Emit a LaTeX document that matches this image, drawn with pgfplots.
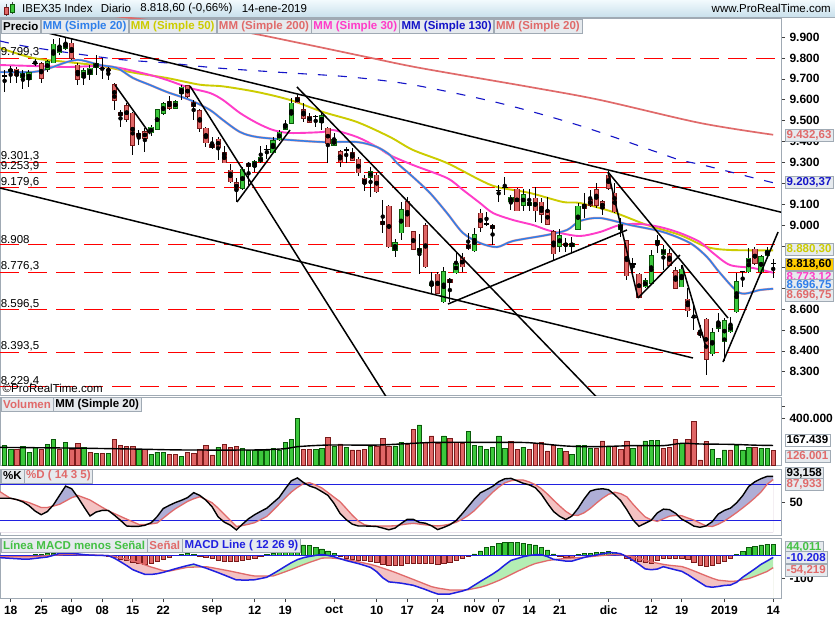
\documentclass[border=0pt]{standalone}
\usepackage{fontspec}
\setmainfont{Liberation Sans}
\usepackage{pgfplots}
\pgfplotsset{compat=1.18}
\usepackage{pgfplotstable}

\definecolor{cgreen}{HTML}{3CC83C}
\definecolor{cgreenD}{HTML}{0A5A0A}
\definecolor{cred}{HTML}{E06666}
\definecolor{credD}{HTML}{7A1A1A}
\definecolor{ma20}{HTML}{2F7FEA}
\definecolor{ma50}{HTML}{CCCC00}
\definecolor{ma200}{HTML}{E06A6A}
\definecolor{ma30}{HTML}{FF3CC8}
\definecolor{ma130}{HTML}{1414C8}
\definecolor{frame}{HTML}{A0AAB4}
\definecolor{lav}{HTML}{AEAED6}
\definecolor{pinkf}{HTML}{F4C2C2}
\definecolor{greenf}{HTML}{B4EEB4}
\definecolor{boxbg}{HTML}{E6EAEE}
\definecolor{gold}{HTML}{FFCC00}
\definecolor{tb1}{HTML}{F2FAFD}
\definecolor{tb2}{HTML}{C9E0EC}
\definecolor{lgreen}{HTML}{44C044}
\definecolor{lblue}{HTML}{2020E0}

% ---------------- candles ----------------
\pgfplotstableread{
k O H L C
0 9735 9760 9680 9745
2 9707 9742 9650 9726
3 9698 9742 9663 9730
6 9745 9790 9735 9782
7 9777 9889 9774 9866
8 9825 9894 9814 9854
9 9846 9898 9838 9870
12 9707 9750 9670 9739
13 9723 9766 9694 9750
14 9755 9814 9718 9774
23 9443 9479 9427 9468
24 9459 9554 9455 9551
25 9535 9591 9527 9580
27 9559 9599 9554 9591
28 9631 9671 9599 9659
38 9177 9280 9169 9268
40 9283 9312 9256 9304
41 9304 9379 9296 9325
43 9347 9424 9344 9403
44 9408 9455 9403 9444
45 9460 9503 9455 9484
46 9487 9607 9484 9583
51 9492 9538 9455 9524
53 9384 9443 9379 9408
59 9229 9280 9134 9257
63 8882 8933 8847 8917
64 8965 9113 8930 9073
67 8871 8958 8767 8890
69 8711 8778 8675 8722
71 8635 8802 8630 8778
73 8774 8874 8767 8818
76 8879 8985 8874 8954
82 9113 9145 9073 9134
84 9097 9172 9070 9145
85 9097 9172 9070 9108
90 8901 8981 8874 8949
92 8901 8942 8874 8911
93 8982 9105 8977 9092
100 8981 9033 8943 9006
104 8707 8746 8699 8734
105 8723 8882 8715 8853
106 8914 8954 8866 8926
107 8863 8906 8786 8885
110 8707 8810 8704 8790
115 8385 8508 8375 8487
116 8507 8579 8492 8535
117 8444 8555 8353 8544
118 8492 8563 8487 8523
119 8587 8770 8579 8731
121 8778 8890 8770 8842
123 8778 8858 8767 8850
124 8858 8898 8842 8877
}\up

\pgfplotstableread{
k O H L C
1 9745 9758 9680 9718
5 9771 9782 9682 9702
10 9870 9894 9790 9798
11 9766 9774 9670 9698
16 9745 9755 9694 9738
17 9671 9679 9551 9599
18 9538 9551 9471 9527
19 9570 9583 9495 9506
20 9535 9543 9336 9384
21 9440 9455 9384 9424
22 9448 9463 9352 9416
26 9591 9618 9551 9559
29 9666 9671 9610 9618
30 9586 9599 9503 9567
31 9548 9554 9448 9464
32 9464 9471 9373 9395
33 9387 9420 9363 9373
34 9411 9424 9312 9373
35 9347 9379 9299 9299
36 9264 9293 9200 9209
37 9204 9224 9113 9172
39 9296 9304 9193 9283
47 9612 9623 9583 9586
48 9551 9583 9495 9511
49 9522 9535 9487 9492
52 9463 9471 9296 9389
54 9352 9360 9280 9304
56 9347 9368 9309 9312
57 9315 9325 9236 9252
58 9225 9240 9166 9198
60 9240 9249 9156 9161
61 9017 9121 8962 9006
62 9092 9097 8890 8898
65 9113 9137 8990 8993
66 8970 8970 8882 8885
68 8997 9013 8794 8802
70 8767 8778 8672 8675
72 8742 8746 8635 8727
74 8847 8869 8778 8802
75 8909 8962 8882 8887
77 9057 9076 8970 8990
79 9000 9006 8906 8984
83 9172 9177 9067 9070
86 9129 9185 9017 9070
87 9110 9129 9009 9054
88 9070 9137 9001 9006
89 8970 8978 8831 8863
91 8911 8938 8874 8904
94 9097 9153 9033 9081
95 9121 9169 9089 9097
96 9169 9201 9081 9097
97 9113 9121 9049 9081
98 9240 9261 9169 9177
99 9153 9201 9057 9065
101 8927 8930 8739 8758
103 8767 8770 8651 8656
108 8863 8885 8805 8810
109 8783 8802 8699 8699
111 8646 8699 8563 8592
113 8487 8523 8460 8476
114 8550 8555 8285 8359
122 8885 8898 8810 8818
}\down

\pgfplotstableread{
k O H L C
-1 9713 9742 9639 9713
4 9774 9793 9761 9774
15 9750 9798 9698 9750
42 9363 9384 9315 9363
50 9519 9527 9471 9519
55 9360 9373 9299 9360
78 9006 9065 8997 9006
80 9165 9193 9113 9165
81 9181 9232 9145 9181
102 8815 8842 8767 8815
112 8560 8627 8500 8560
120 8778 8783 8707 8778
125 8818.6 8837 8746 8818.6
}\doji

% ---------------- moving averages ----------------
\pgfplotstableread{
k v
-1.75 9732.7
3.66 9732.7
6.44 9751.8
9.23 9780.5
11.36 9790
14.64 9766
17.43 9751.8
20.05 9704
22.84 9670.6
25.62 9637
29.39 9598.9
32.67 9551
34.8 9503
37.59 9445.9
40.38 9422
45.79 9407.7
51.2 9398
56.77 9398
60.05 9374
62.18 9336
63.33 9297.7
65.95 9230.8
68.74 9154.3
71.52 9058.7
74.15 8963
76.93 8915.3
79.72 8896
82.34 8924.9
87.92 8953.6
91.2 8977.5
93.33 9020.5
96.6 9034.8
101.52 9001.4
106.93 8968
111.36 8915.3
114.15 8848.4
116.28 8772
119.56 8676.3
122.84 8690.7
125 8696.75
}\smaA

\pgfplotstableread{
k v
-1.75 9766
3.66 9761.4
9.23 9756.6
14.64 9761.4
17.92 9751.8
22.84 9718.4
25.62 9694.5
29.39 9656.2
32.67 9632.3
34.8 9598.9
37.59 9536.7
40.38 9488.9
43 9455.5
45.79 9441.1
51.2 9445.9
52.84 9455.5
56.77 9422
60.05 9374.2
62.18 9335
65.95 9288
71.52 9226
74.15 9168.7
76.93 9106.5
79.07 9058.7
82.34 9025.3
85.62 9001.4
87.92 8977.5
90.05 8963.1
93.33 8948.8
96.6 8967.9
99.89 9001.4
103.16 9006.1
106.44 8991.8
109.72 8963.1
113 8920.1
115.13 8867.5
117.92 8810.2
121.69 8795.8
125 8773.12
}\smaC

\pgfplotstableread{
k v
-1.75 9847.4
3.66 9799.6
9.23 9780.5
14.64 9762
20.05 9730
25.62 9704
31 9672
34.8 9664
40.38 9637.1
45.79 9598.9
51.2 9541.5
56.77 9493.7
62.18 9422
65.95 9359.9
71.52 9297.7
76.93 9216.5
79.72 9183
85.13 9154.3
90.54 9111.3
93.33 9106.5
98.74 9063.5
104.31 9001.4
109.72 8953.6
114.15 8896.2
117.92 8881.9
125 8880.3
}\smaB

\pgfplotstableread{
k v
-1.75 10060
20 9990
36.4 9933
47.4 9871
58.4 9804
67.1 9752
85.1 9661
96.6 9599
113 9489
125 9432.63
}\smaD

\pgfplotstableread{
k v
-1.75 9881
3.16 9852
17.1 9795
25.6 9776
33.8 9752
45.8 9728
55.6 9709
66 9671
80 9585
93 9479
105.9 9350
109.7 9312
113.5 9288
121.2 9231
125 9203.37
}\smaE

% ---------------- volume ----------------
\pgfplotstableread{
k V
-1 171000
0 137000
2 157000
3 111000
4 151000
6 177000
7 220000
9 194000
12 151000
14 100000
16 100000
21 134000
23 94000
24 111000
25 111000
28 77000
34 151000
38 143000
39 123000
40 123000
41 123000
42 123000
43 143000
44 123000
45 194000
46 220000
47 400000
50 137000
51 143000
53 157000
55 151000
59 163000
63 163000
64 194000
67 343000
71 249000
75 291000
76 171000
77 163000
78 134000
79 149000
80 249000
81 143000
84 151000
90 143000
92 94000
93 171000
94 171000
95 143000
98 163000
102 143000
104 206000
105 214000
106 214000
110 186000
115 134000
116 57000
117 129000
119 171000
120 129000
121 151000
123 143000
124 143000
}\volG

\pgfplotstableread{
k V
1 137000
5 137000
8 137000
10 137000
11 186000
13 111000
15 100000
17 220000
18 171000
19 157000
20 157000
22 134000
26 94000
27 94000
29 111000
30 100000
31 134000
32 171000
33 86000
35 177000
36 151000
37 157000
48 137000
49 137000
52 237000
54 180000
56 129000
57 129000
58 134000
60 163000
61 229000
62 163000
65 180000
66 306000
68 194000
69 249000
70 186000
72 229000
73 194000
74 186000
82 200000
83 134000
85 134000
86 186000
87 194000
88 120000
89 171000
91 114000
96 143000
97 206000
99 157000
100 134000
101 206000
103 171000
107 143000
108 151000
109 220000
111 220000
112 377000
113 43000
114 200000
118 129000
122 151000
125 126001
}\volR

\pgfplotstableread{
k V
-1.75 151000
10 145000
20 137000
28 129000
40 129000
45 140000
47 157000
52 171000
60 171000
66 186000
70 194000
80 194000
85 191000
91 163000
96 157000
102 166000
107 166000
110 186000
113 180000
118 177000
122 170000
125 167439
}\volMA

% ---------------- stochastic %K %D ----------------
\pgfplotstableread{
k K D
-1.754 56.7 67.8
-1 56.7 62.7
0 56.7 56.5
1 54.5 54.4
2 50.7 52.4
3 44.4 49.5
4 35.4 45.5
5 29.3 41.3
6 34.5 41.4
7 45.7 43.7
8 61.4 46.6
9 77 52.1
10 72.6 57.7
11 58.5 61.5
12 42.6 57.7
13 27.2 53.9
14 33.8 47.8
15 36.5 41.7
16 36.4 35.9
17 28.5 31.2
18 19.9 26.6
19 10.5 22
20 9.8 17.6
21 10 13.1
22 11.7 13
23 15.8 14
24 26.1 15.5
25 39.6 23.6
26 44.9 31.8
27 49.6 39.3
28 53.4 45.4
29 57.9 51.5
30 66.1 55.9
31 61.5 59.3
32 53.6 54.5
33 42.7 49.4
34 25.8 40.4
35 17 30.2
36 11.9 20
37 4 9.8
38 13.6 11.3
39 22.7 13.4
40 29.4 16.1
41 35 21.2
42 40.3 26.5
43 49.2 36.5
44 58 46.8
45 72.4 57
46 85.8 67.1
47 90.7 74.8
48 82.9 81.1
49 77.2 82.6
50 73.8 78.8
51 67.9 73.9
52 61.6 66.3
53 48.2 58.6
54 31.4 50.9
55 21.2 39.8
56 13.5 28.5
57 10.5 18.7
58 10.5 12.6
59 10.2 10.5
60 9.7 10.5
61 7 10.5
62 4.2 10.5
63 7 10.9
64 14.6 12.4
65 21.6 13.9
66 21.6 14.9
67 16.6 13.7
68 15.1 12.4
69 10.8 11.4
70 4.5 10.7
71 8.2 11.7
72 12.6 13.8
73 19.4 16.6
74 30.8 21.6
75 43 28
76 55.3 36
77 65.8 46.2
78 71 56.4
79 76.6 66.6
80 84.4 75.2
81 89.2 82.4
82 89.9 85.9
83 85.9 87.2
84 81.7 87.2
85 79.1 83.9
86 74.4 79.4
87 63.4 72.7
88 48.3 63.6
89 34.6 53.5
90 26.5 43.9
91 21.2 34.9
92 27 28.4
93 39.8 28.2
94 55.5 32.5
95 68.7 39.6
96 71.6 48.5
97 72.6 56.6
98 71 63.3
99 62.8 66.9
100 52.7 64.4
101 37.8 59.2
102 20.9 47.1
103 10 35.9
104 15 25.8
105 20.1 20.7
106 32.3 18.2
107 38.6 22.5
108 37.8 26.9
109 31.6 28.1
110 21.9 27.7
111 16.5 23.9
112 10.3 20.3
113 8.3 15.4
114 10.7 10.8
115 17.7 9.6
116 30.5 13.5
117 36.5 18.9
118 40.3 25.6
119 49.1 32.9
120 61.1 40.6
121 76.6 48.7
122 84.2 57.5
123 89.4 67.1
124 93.2 79.9
125 93.16 87.93
}\stoch

% ---------------- MACD line (M) and signal (S) ----------------
\pgfplotstableread{
k M S
-1.754 -11.4 -7.2
-1 -12.6 -7.2
0 -14.3 -7.2
1 -15.9 -7.2
2 -17.6 -7.2
3 -17.5 -7.2
4 -14.5 -6.7
5 -11.5 -4.8
6 -8.5 -3
7 -1.3 -1.1
8 7.2 0.8
9 7.2 2.6
10 7.2 2.3
11 4.8 1.7
12 1.5 1
13 -0.4 0.4
14 -1.2 -0.5
15 -1.9 -1.5
16 -2.7 -2.6
17 -13.8 -6.9
18 -28.9 -12.5
19 -45.2 -18.1
20 -62.7 -23.7
21 -73.2 -32.7
22 -83 -42.1
23 -83.5 -51.3
24 -80.3 -59
25 -74.5 -67
26 -66.7 -69.1
27 -58.9 -63.4
28 -51.8 -57.8
29 -45 -52.8
30 -39.2 -51.9
31 -47.7 -51
32 -56.1 -50.1
33 -65.8 -54.3
34 -75.6 -59.2
35 -85.9 -64.1
36 -96.4 -69.1
37 -107 -74.6
38 -107.3 -80.1
39 -107.3 -85.7
40 -106.1 -90.1
41 -100.9 -90.1
42 -95.3 -90.1
43 -80.5 -90.1
44 -64.9 -81.3
45 -48.7 -71.9
46 -33 -62.2
47 -19.9 -51.6
48 -11.3 -41.3
49 -6.1 -31.5
50 -1.5 -22.6
51 2 -13.6
52 -1.7 -12.4
53 -7.6 -13.7
54 -15.9 -16.4
55 -23.7 -20
56 -30.3 -23.7
57 -36.8 -29
58 -44.8 -34.7
59 -53.3 -40.3
60 -71.5 -47.7
61 -97.8 -56.4
62 -115.3 -65.1
63 -117.9 -74.3
64 -120.8 -84.5
65 -125.4 -94.7
66 -130 -104.9
67 -139.1 -115.2
68 -148.2 -125.5
69 -158.6 -135.9
70 -167.4 -141.8
71 -167.4 -146
72 -167.4 -150.2
73 -161.2 -150.2
74 -154.9 -150.2
75 -146.1 -148.9
76 -129.7 -143.6
77 -113.3 -138.4
78 -97.6 -130.5
79 -81.9 -120.2
80 -64.2 -109.6
81 -42.7 -97.1
82 -23.1 -84
83 -15.4 -70.9
84 -7.5 -59
85 -2.1 -46.8
86 1.4 -36.6
87 1.4 -30.4
88 -6.8 -24.1
89 -18.7 -20
90 -22.4 -17.3
91 -26.1 -14.7
92 -26.2 -13
93 -18.3 -11.4
94 -10.5 -9.7
95 -4.5 -7.1
96 0.1 -4.5
97 5 -2
98 10.2 0.1
99 9.5 2.2
100 5.6 0.4
101 -7.5 -3.3
102 -22.7 -6.9
103 -40.1 -14.5
104 -59.5 -22.4
105 -63.1 -29.6
106 -60.3 -34.9
107 -50.1 -40.2
108 -57.1 -44.1
109 -63.8 -46.7
110 -69.9 -49.3
111 -84.4 -57.8
112 -101.7 -68.2
113 -118.1 -78.7
114 -134.6 -89.2
115 -138.3 -99.6
116 -135 -108
117 -130.5 -110.6
118 -128.8 -113.2
119 -117 -111.6
120 -95.2 -106.4
121 -77.3 -101.1
122 -59.4 -91.6
123 -40.2 -81.2
124 -25.5 -70.7
125 -10.21 -54.22
}\macd

\pgfplotstableread{
k v
4 2
5 3
6 6
7 9
8 10
9 9
10 7
11 4
12 2
28 4
29 6
30 3
42 3
43 9
44 15
45 24
46 34
47 42
48 43
49 40
50 34
51 26
52 18
53 8
76 5
77 18
78 32
79 38
80 50
81 54
82 54
83 53
84 50
85 47
86 43
87 33
88 22
89 5
93 3
94 6
95 8
96 10
97 12
98 15
99 10
100 2
119 4
120 14
121 33
122 38
123 43
124 47
125 44.01
}\hG

\pgfplotstableread{
k v
-1 -2
0 -2
1 -1
2 -1
14 -1
15 -2
16 -5
17 -10
18 -18
19 -24
20 -30
21 -36
22 -38
23 -36
24 -28
25 -20
26 -10
27 -3
31 -4
32 -10
33 -16
34 -21
35 -26
36 -28
37 -28
38 -24
39 -18
40 -12
41 -5
54 -5
55 -12
56 -17
57 -21
58 -24
59 -28
60 -33
61 -40
62 -46
63 -46
64 -42
65 -36
66 -36
67 -36
68 -36
69 -37
70 -38
71 -35
72 -30
73 -22
74 -14
75 -5
90 -4
91 -10
92 -10
101 -12
102 -22
103 -29
104 -33
105 -36
106 -22
107 -15
108 -14
109 -14
110 -14
111 -20
112 -33
113 -43
114 -47
115 -43
116 -35
117 -28
118 -14
}\hR

\pgfplotsset{
  panel/.style={scale only axis, width=781pt, xmin=-1.754, xmax=126.28,
    anchor=north west, axis line style={draw=frame}, xtick=\empty,
    ytick pos=right, tick align=outside, major tick length=4pt,
    tick style={draw=black!75, line width=0.6pt},
    yticklabel style={font=\bfseries\fontsize{12}{12}\selectfont, xshift=1pt}},
  hl/.style={draw=red, line width=0.9pt, dash pattern=on 19pt off 9pt, forget plot},
  eb/.style 2 args={only marks, mark=none, forget plot,
    error bars/y dir=both, error bars/y explicit, error bars/error mark=none,
    error bars/error bar style={line width=#1, draw=#2, solid}},
  vbar/.style 2 args={ybar, bar width=4.3pt, bar shift=0pt, fill=#1, draw=#2, line width=0.6pt, forget plot},
  tl/.style={black, line width=1.5pt, forget plot},
}
\tikzset{
  vbox/.style={draw=frame, fill=#1, inner xsep=1.5pt, inner ysep=0.5pt, minimum height=12pt,
    anchor=west, font=\bfseries\fontsize{11.5}{12}\selectfont},
  lbox/.style={draw=frame, fill=boxbg, inner xsep=2pt, inner ysep=0pt, minimum height=14pt,
    anchor=west, font=\bfseries\fontsize{11.5}{12}\selectfont},
  hlab/.style={anchor=south west, inner sep=0.6pt, font=\fontsize{11.5}{12}\selectfont},
  ttl/.style={anchor=west, inner sep=0pt, font=\fontsize{11.5}{13}\selectfont},
}

\begin{document}
\begin{tikzpicture}
\path[use as bounding box] (0pt,0pt) rectangle (835pt,-620pt);
\fill[white] (0pt,0pt) rectangle (835pt,-620pt);
\shade[top color=tb1, bottom color=tb2] (0pt,0pt) rectangle (835pt,-17pt);
\draw[frame] (0pt,-17pt) -- (835pt,-17pt);
% small candle icon
\draw[black!70] (6pt,-4pt) -- (6pt,-16pt);
\fill[cred, draw=credD] (4pt,-7pt) rectangle (8pt,-14pt);
\draw[black!70] (12.5pt,-2pt) -- (12.5pt,-14pt);
\fill[cgreen, draw=cgreenD] (10.5pt,-4pt) rectangle (14.5pt,-12pt);
\node[ttl] (t1) at (22pt,-8.5pt) {IBEX35 Index};
\node[ttl] (t2) at ([xshift=8pt]t1.east) {Diario};
\node[ttl] (t3) at ([xshift=9pt]t2.east) {8.818,60 (-0,66\%)};
\node[ttl] (t4) at ([xshift=9pt]t3.east) {14-ene-2019};
\node[anchor=east, inner sep=0pt, font=\fontsize{11.5}{13}\selectfont] at (831pt,-8.5pt) {www.ProRealTime.com};

% ================= MAIN PRICE PANEL =================
\begin{axis}[panel, at={(0pt,-18pt)}, height=377pt, ymin=8188.8, ymax=9990.8,
  ytick={8300,8400,...,9900},
  yticklabels={8.300,8.400,8.500,8.600,{},{},{},9.000,9.100,{},9.300,9.400,9.500,9.600,9.700,9.800,9.900}]
\addplot[hl] coordinates {(-1.754,9799.3) (126.28,9799.3)};
\addplot[hl] coordinates {(-1.754,9301.3) (126.28,9301.3)};
\addplot[hl] coordinates {(-1.754,9253.9) (126.28,9253.9)};
\addplot[hl] coordinates {(-1.754,9179.6) (126.28,9179.6)};
\addplot[hl] coordinates {(-1.754,8908) (126.28,8908)};
\addplot[hl] coordinates {(-1.754,8776.3) (126.28,8776.3)};
\addplot[hl] coordinates {(-1.754,8596.5) (126.28,8596.5)};
\addplot[hl] coordinates {(-1.754,8393.5) (126.28,8393.5)};
\addplot[hl] coordinates {(-1.754,8229.4) (126.28,8229.4)};
% moving averages
\addplot[ma200, line width=1.7pt, smooth, forget plot] table[x=k,y=v] {\smaD};
\addplot[ma130, line width=1.1pt, smooth, dash pattern=on 9pt off 11pt, forget plot] table[x=k,y=v] {\smaE};
\addplot[ma50, line width=1.9pt, smooth, forget plot] table[x=k,y=v] {\smaB};
\addplot[ma30, line width=1.9pt, smooth, forget plot] table[x=k,y=v] {\smaC};
\addplot[ma200!70, line width=2.3pt, smooth, forget plot] table[x=k,y=v] {\smaA};
\addplot[ma20, line width=1.5pt, smooth, forget plot] table[x=k,y=v] {\smaA};
% candles: wicks
\addplot[eb={1pt}{black}] table[x=k, y expr=(\thisrow{H}+\thisrow{L})/2, y error expr=(\thisrow{H}-\thisrow{L})/2] {\up};
\addplot[eb={1pt}{black}] table[x=k, y expr=(\thisrow{H}+\thisrow{L})/2, y error expr=(\thisrow{H}-\thisrow{L})/2] {\down};
\addplot[eb={1pt}{black}] table[x=k, y expr=(\thisrow{H}+\thisrow{L})/2, y error expr=(\thisrow{H}-\thisrow{L})/2] {\doji};
% candles: bodies
\addplot[eb={5.2pt}{cgreenD}] table[x=k, y expr=(\thisrow{O}+\thisrow{C})/2, y error expr=(\thisrow{C}-\thisrow{O})/2+2.6] {\up};
\addplot[eb={3.2pt}{cgreen}] table[x=k, y expr=(\thisrow{O}+\thisrow{C})/2, y error expr=(\thisrow{C}-\thisrow{O})/2] {\up};
\addplot[eb={5.2pt}{credD}] table[x=k, y expr=(\thisrow{O}+\thisrow{C})/2, y error expr=(\thisrow{O}-\thisrow{C})/2+2.6] {\down};
\addplot[eb={3.2pt}{cred}] table[x=k, y expr=(\thisrow{O}+\thisrow{C})/2, y error expr=(\thisrow{O}-\thisrow{C})/2] {\down};
\addplot[only marks, mark=-, mark size=2.7pt, mark options={line width=1.3pt, draw=black}, forget plot] table[x=k, y=C] {\doji};
% trend lines
\addplot[tl] coordinates {(6.11,9919) (126.5,9061)};
\addplot[tl] coordinates {(-1.754,9178.2) (111.85,8365.6)};
\addplot[tl] coordinates {(17.1,9670.6) (22.84,9436.3)};
\addplot[tl] coordinates {(29.39,9665.8) (62.2,8150)};
\addplot[tl] coordinates {(37.1,9111.3) (45.79,9455.5)};
\addplot[tl] coordinates {(46.93,9661) (97,8150)};
\addplot[tl] coordinates {(71.69,8623.7) (101.03,8977.5)};
\addplot[tl] coordinates {(97.92,9254.7) (102.84,8652.4)};
\addplot[tl] coordinates {(97.92,9254.7) (117.59,8556.8)};
\addplot[tl] coordinates {(102.84,8652.4) (109.72,8857.9)};
\addplot[tl] coordinates {(110.05,8810.2) (113.98,8418.2)};
\addplot[tl] coordinates {(116.77,8346.5) (125.8,8967.9)};
% level labels
\node[hlab] at (axis cs:-1.754,9799.3) {9.799,3};
\node[hlab] at (axis cs:-1.754,9301.3) {9.301,3};
\node[hlab] at (axis cs:-1.754,9253.9) {9.253,9};
\node[hlab] at (axis cs:-1.754,9179.6) {9.179,6};
\node[hlab] at (axis cs:-1.754,8908) {8.908};
\node[hlab] at (axis cs:-1.754,8776.3) {8.776,3};
\node[hlab] at (axis cs:-1.754,8596.5) {8.596,5};
\node[hlab] at (axis cs:-1.754,8393.5) {8.393,5};
\node[hlab] at (axis cs:-1.754,8229.4) {8.229,4};
\end{axis}
\node[anchor=south west, inner sep=0.5pt, font=\fontsize{11.5}{12}\selectfont] at (2pt,-393pt) {\textcopyright ProRealTime.com};

% ================= VOLUME PANEL =================
\begin{axis}[panel, at={(0pt,-397pt)}, height=68pt, ymin=0, ymax=582700,
  scaled y ticks=false,
  ytick={400000,500000}, yticklabels={400.000,{}}]
\addplot[vbar={cgreen}{cgreenD}] table[x=k,y=V] {\volG};
\addplot[vbar={cred}{credD}] table[x=k,y=V] {\volR};
\addplot[black, line width=1.4pt, smooth, forget plot] table[x=k,y=V] {\volMA};
\end{axis}

% ================= STOCHASTIC PANEL =================
\begin{axis}[panel, at={(0pt,-469pt)}, height=66pt, ymin=-4.5, ymax=105.5,
  ytick={50}, yticklabels={50}]
\addplot[fill=pinkf, draw=none, forget plot] table[x=k,y=D] {\stoch} \closedcycle;
\addplot[fill=lav, draw=none, forget plot] table[x=k,y=K] {\stoch} \closedcycle;
\addplot[fill=white, draw=none, forget plot] table[x=k, y expr={min(\thisrow{K},\thisrow{D})}] {\stoch} \closedcycle;
\addplot[lblue, line width=0.8pt, forget plot] coordinates {(-1.754,80) (126.28,80)};
\addplot[lblue, line width=0.8pt, forget plot] coordinates {(-1.754,20) (126.28,20)};
\addplot[ma200, line width=1.3pt, forget plot] table[x=k,y=D] {\stoch};
\addplot[black, line width=1.4pt, forget plot] table[x=k,y=K] {\stoch};
\end{axis}

% ================= MACD PANEL =================
% fills (values shifted by +200 in a hidden overlay axis so that they close below the panel)
\begin{axis}[panel, at={(0pt,-538pt)}, height=60pt, ymin=15.5, ymax=273, hide axis]
\addplot[fill=pinkf, draw=none, forget plot] table[x=k, y expr=\thisrow{S}+200] {\macd} \closedcycle;
\addplot[fill=greenf, draw=none, forget plot] table[x=k, y expr=\thisrow{M}+200] {\macd} \closedcycle;
\addplot[fill=white, draw=none, forget plot] table[x=k, y expr={min(\thisrow{M},\thisrow{S})+200}] {\macd} \closedcycle;
\end{axis}
\begin{axis}[panel, at={(0pt,-538pt)}, height=60pt, ymin=-184.5, ymax=73,
  ytick={-100}, yticklabels={-100},
  xtick={0,5,10,15,20,25,33,40,45,53,60,65,70,76,80,85,90,98,105,110,117,125},
  xticklabels={18,25,ago,08,15,22,sep,12,19,oct,10,17,24,nov,07,14,21,dic,12,19,2019,14},
  xtick pos=bottom,
  xticklabel style={font=\bfseries\fontsize{12}{12}\selectfont, yshift=-0.5pt}]
\addplot[vbar={cgreen}{cgreenD}] table[x=k,y=v] {\hG};
\addplot[vbar={cred}{credD}] table[x=k,y=v] {\hR};
\addplot[lblue, line width=0.8pt, forget plot] coordinates {(-1.754,0) (126.28,0)};
\addplot[ma200, line width=1.3pt, forget plot] table[x=k,y=S] {\macd};
\addplot[lblue, line width=1.5pt, forget plot] table[x=k,y=M] {\macd};
\end{axis}

% ---------------- legends inside panels ----------------
\node[lbox] (p0) at (1pt,-26.5pt) {Precio};
\node[lbox, text=ma20] (p1) at (p0.east) {MM (Simple 20)};
\node[lbox, text=ma50] (p2) at (p1.east) {MM (Simple 50)};
\node[lbox, text=ma200] (p3) at (p2.east) {MM (Simple 200)};
\node[lbox, text=ma30] (p4) at (p3.east) {MM (Simple 30)};
\node[lbox, text=ma130] (p5) at (p4.east) {MM (Simple 130)};
\node[lbox, text=ma200] (p6) at (p5.east) {MM (Simple 20)};

\node[lbox, text=ma200] (v0) at (1pt,-404.5pt) {Volumen};
\node[lbox] (v1) at (v0.east) {MM (Simple 20)};

\node[lbox] (s0) at (1pt,-476pt) {\%K};
\node[lbox, text=ma200] (s1) at (s0.east) {\%D ( 14 3 5)};

\node[lbox, text=lgreen] (m0) at (1pt,-545.5pt) {Línea MACD menos Señal};
\node[lbox, text=ma200] (m1) at (m0.east) {Señal};
\node[lbox, text=lblue] (m2) at (m1.east) {MACD Line ( 12 26 9)};

% ---------------- value boxes on the right ----------------
\node[vbox=boxbg, text=ma200] at (785pt,-135pt) {9.432,63};
\node[vbox=boxbg, text=ma130] at (785pt,-182pt) {9.203,37};
\node[vbox=boxbg, text=ma50] at (785pt,-249pt) {8.880,30};
\node[vbox=boxbg, text=ma30] at (785pt,-277pt) {8.773,12};
\node[vbox=boxbg, text=ma20] at (785pt,-285pt) {8.696,75};
\node[vbox=gold, text=black] at (785pt,-264.5pt) {8.818,60};
\node[vbox=boxbg, text=ma200] at (785pt,-295pt) {8.696,75};

\node[vbox=white, text=black] at (785pt,-440pt) {167.439};
\node[vbox=boxbg, text=ma200] at (785pt,-456pt) {126.001};

\node[vbox=boxbg, text=black] at (785pt,-473pt) {93,158};
\node[vbox=boxbg, text=ma200] at (785pt,-484.5pt) {87,933};

\node[vbox=boxbg, text=lgreen] at (785pt,-547pt) {44,011};
\node[vbox=boxbg, text=lblue] at (785pt,-557.5pt) {-10.208};
\node[vbox=boxbg, text=ma200] at (785pt,-570.5pt) {-54,219};
\end{tikzpicture}
\end{document}
